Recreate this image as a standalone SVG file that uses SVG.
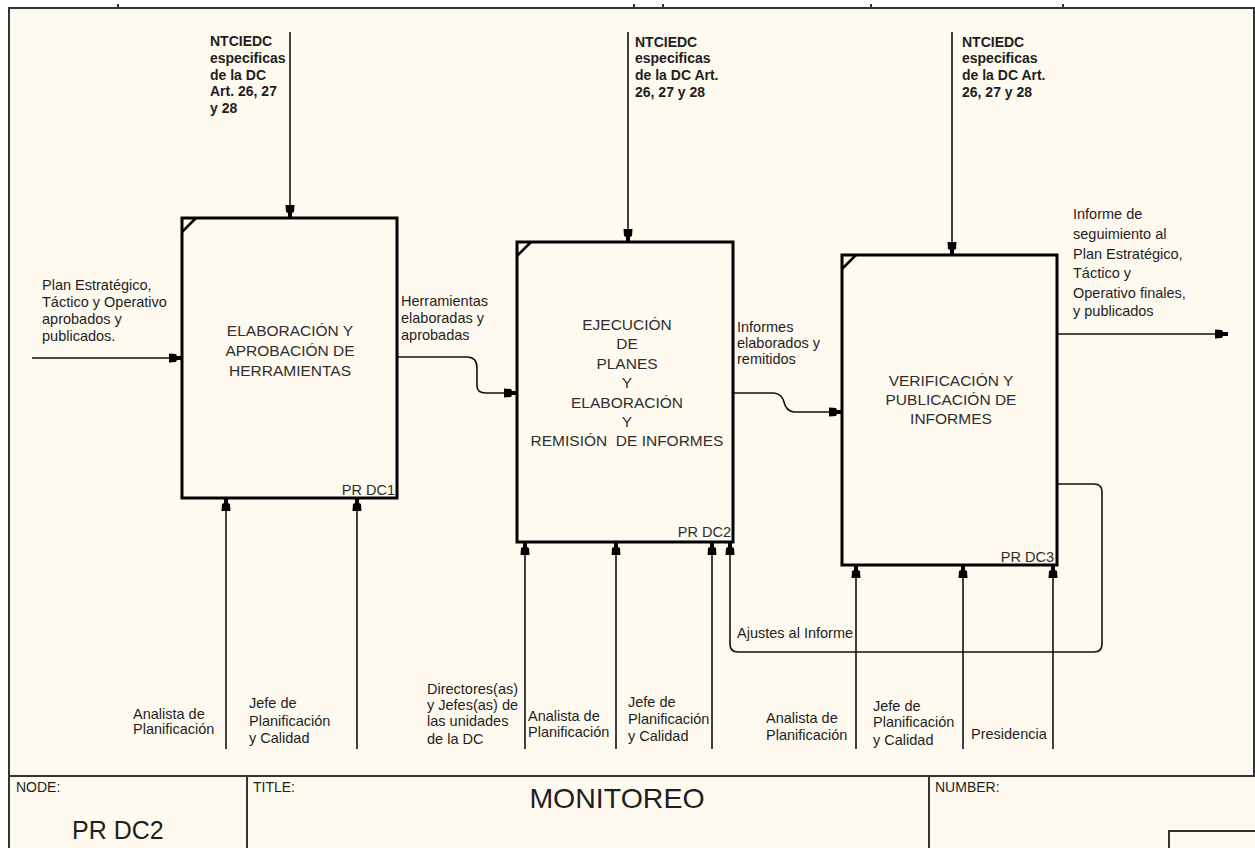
<svg xmlns="http://www.w3.org/2000/svg" width="1255" height="848" viewBox="0 0 1255 848">
<style>
.lbl{font-family:"Liberation Sans",Arial,sans-serif;font-size:14.5px;fill:#1e1e1e}
.bold{font-weight:bold;font-size:14px}
.ttl{font-family:"Liberation Sans",Arial,sans-serif;font-size:15.5px;fill:#2e2e2e;text-anchor:middle}
.id{font-family:"Liberation Sans",Arial,sans-serif;font-size:14.5px;fill:#2e2e2e;text-anchor:end}
.box{fill:none;stroke:#000;stroke-width:3}
.corner{stroke:#000;stroke-width:2.5}
.con{fill:none;stroke:#111;stroke-width:1.6}
.arr{marker-end:url(#ah)}
.frame{fill:none;stroke:#333;stroke-width:2}
.tb{font-family:"Liberation Sans",Arial,sans-serif;fill:#1e1e1e}
</style>
<defs>
<marker id="ah" viewBox="0 0 14 10" refX="14" refY="5" markerWidth="14" markerHeight="10" markerUnits="userSpaceOnUse" orient="auto">
<path d="M14,3 L9,3 L8,1 L1,0.5 L1,9.5 L8,9 L9,7 L14,7 Z" fill="#000"/>
</marker>
</defs>
<rect x="0" y="0" width="1255" height="848" fill="#fff"/>
<rect x="9" y="8" width="1246" height="840" fill="#fffaf0"/>
<g id="frame">
<path class="frame" d="M9,848 V8 H1255" stroke-width="2.5"/>
<path class="frame" d="M1254,8 V776"/>
<path class="frame" d="M118,4 V8 M634,4 V8 M663,4 V8 M871,4 V8 M1063,4 V8"/>
<path class="frame" d="M9,776 H1255 M247,776 V848 M929,776 V848 M1169,848 V831 H1255"/>
<text class="tb" x="16" y="792" font-size="14">NODE:</text>
<text class="tb" x="72" y="839" font-size="25">PR DC2</text>
<text class="tb" x="253" y="792" font-size="14">TITLE:</text>
<text class="tb" x="617" y="808" font-size="28.5" text-anchor="middle">MONITOREO</text>
<text class="tb" x="935" y="792" font-size="14">NUMBER:</text>
</g>
<g id="connectors">
<path class="con arr" d="M290,32 V218"/>
<path class="con arr" d="M628,32 V242"/>
<path class="con arr" d="M952,32 V255"/>
<path class="con arr" d="M32,358 H182"/>
<path class="con arr" d="M397,357 H467 Q477,357 477,368 V386 Q477,393 486,393 H517"/>
<path class="con arr" d="M733,393 H774 Q782,394 784,402 Q786,411 794,412 H842"/>
<path class="con arr" d="M1057,334 H1228"/>
<path class="con arr" d="M1057,484 H1094 Q1102,484 1102,492 V644 Q1102,652 1094,652 H738 Q730,652 730,644 V542"/>
<path class="con arr" d="M226,749 V498"/>
<path class="con arr" d="M357,749 V498"/>
<path class="con arr" d="M525,749 V542"/>
<path class="con arr" d="M616,749 V542"/>
<path class="con arr" d="M712,749 V542"/>
<path class="con arr" d="M856,749 V565"/>
<path class="con arr" d="M963,749 V565"/>
<path class="con arr" d="M1053,749 V565"/>
</g>
<g id="labels">
<text class="lbl bold" x="210"><tspan x="210" y="46">NTCIEDC</tspan><tspan x="210" y="63">especificas</tspan><tspan x="210" y="80">de la DC</tspan><tspan x="210" y="96">Art. 26, 27</tspan><tspan x="210" y="113">y 28</tspan></text>
<text class="lbl bold" x="635"><tspan x="635" y="47">NTCIEDC</tspan><tspan x="635" y="63">especificas</tspan><tspan x="635" y="80">de la DC Art.</tspan><tspan x="635" y="97">26, 27 y 28</tspan></text>
<text class="lbl bold" x="962"><tspan x="962" y="47">NTCIEDC</tspan><tspan x="962" y="63">especificas</tspan><tspan x="962" y="80">de la DC Art.</tspan><tspan x="962" y="97">26, 27 y 28</tspan></text>
<text class="lbl" x="42"><tspan x="42" y="290">Plan Estratégico,</tspan><tspan x="42" y="307">Táctico y Operativo</tspan><tspan x="42" y="324">aprobados y</tspan><tspan x="42" y="341">publicados.</tspan></text>
<text class="lbl" x="401"><tspan x="401" y="306">Herramientas</tspan><tspan x="401" y="323">elaboradas y</tspan><tspan x="401" y="340">aprobadas</tspan></text>
<text class="lbl" x="737"><tspan x="737" y="332">Informes</tspan><tspan x="737" y="348">elaborados y</tspan><tspan x="737" y="364">remitidos</tspan></text>
<text class="lbl" x="1073"><tspan x="1073" y="219">Informe de</tspan><tspan x="1073" y="239">seguimiento al</tspan><tspan x="1073" y="259">Plan Estratégico,</tspan><tspan x="1073" y="278">Táctico y</tspan><tspan x="1073" y="298">Operativo finales,</tspan><tspan x="1073" y="316">y publicados</tspan></text>
<text class="lbl" x="737" y="638">Ajustes al Informe</text>
<text class="lbl" x="133"><tspan x="133" y="719">Analista de</tspan><tspan x="133" y="734">Planificación</tspan></text>
<text class="lbl" x="249"><tspan x="249" y="708">Jefe de</tspan><tspan x="249" y="726">Planificación</tspan><tspan x="249" y="743">y Calidad</tspan></text>
<text class="lbl" x="427"><tspan x="427" y="694">Directores(as)</tspan><tspan x="427" y="710">y Jefes(as) de</tspan><tspan x="427" y="726">las unidades</tspan><tspan x="427" y="744">de la DC</tspan></text>
<text class="lbl" x="528"><tspan x="528" y="721">Analista de</tspan><tspan x="528" y="737">Planificación</tspan></text>
<text class="lbl" x="628"><tspan x="628" y="707">Jefe de</tspan><tspan x="628" y="724">Planificación</tspan><tspan x="628" y="741">y Calidad</tspan></text>
<text class="lbl" x="766"><tspan x="766" y="723">Analista de</tspan><tspan x="766" y="740">Planificación</tspan></text>
<text class="lbl" x="873"><tspan x="873" y="711">Jefe de</tspan><tspan x="873" y="727">Planificación</tspan><tspan x="873" y="745">y Calidad</tspan></text>
<text class="lbl" x="971" y="739">Presidencia</text>
</g>
<g id="node-DC1">
<rect class="box" x="182" y="218" width="215" height="280"/>
<line class="corner" x1="182" y1="232" x2="196" y2="218"/>
<text class="ttl"><tspan x="290" y="336">ELABORACIÓN Y</tspan><tspan x="290" y="356">APROBACIÓN DE</tspan><tspan x="290" y="376">HERRAMIENTAS</tspan></text>
<text class="id" x="395" y="495">PR DC1</text>
</g>
<g id="node-DC2">
<rect class="box" x="517" y="242" width="216" height="300"/>
<line class="corner" x1="517" y1="256" x2="531" y2="242"/>
<text class="ttl"><tspan x="627" y="330">EJECUCIÓN</tspan><tspan x="627" y="349">DE</tspan><tspan x="627" y="369">PLANES</tspan><tspan x="627" y="388">Y</tspan><tspan x="627" y="408">ELABORACIÓN</tspan><tspan x="627" y="427">Y</tspan><tspan x="627" y="446" xml:space="preserve">REMISIÓN  DE INFORMES</tspan></text>
<text class="id" x="731" y="537">PR DC2</text>
</g>
<g id="node-DC3">
<rect class="box" x="842" y="255" width="215" height="310"/>
<line class="corner" x1="842" y1="269" x2="856" y2="255"/>
<text class="ttl"><tspan x="951" y="386">VERIFICACIÓN Y</tspan><tspan x="951" y="405">PUBLICACIÓN DE</tspan><tspan x="951" y="424">INFORMES</tspan></text>
<text class="id" x="1054" y="562">PR DC3</text>
</g>
</svg>
